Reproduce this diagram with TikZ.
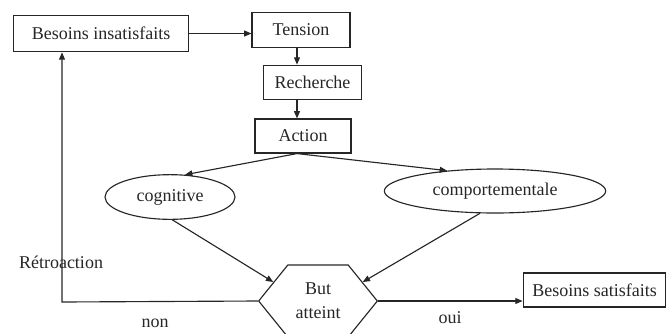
\documentclass[tikz,border=0pt]{standalone}
\usepackage{fontspec}
\setmainfont{Liberation Serif}
\usetikzlibrary{arrows.meta}
\usetikzlibrary{shapes.geometric}
\usetikzlibrary{shapes.symbols}
\tikzset{>={Triangle[length=5.5pt,width=4.5pt]}}
\tikzset{
  boite/.style={draw, rectangle, inner sep=0pt, line width=0.85pt},
  ovale/.style={draw, ellipse, inner sep=0pt, line width=0.85pt},
  hexa/.style={draw, signal, signal to=east and west, signal pointer angle=102,
    inner sep=0pt, line width=0.85pt, align=center},
  fleche/.style={->, line width=0.85pt},
}

\begin{document}
\begin{tikzpicture}[x=0.75pt, y=-0.75pt, font=\fontsize{13.5}{15}\selectfont, color=black!85]
  \useasboundingbox (0,0) rectangle (667,333);

  % 节点
  \node[boite, minimum width=131pt, minimum height=27.5pt] (bi) at (101,33.5) {Besoins insatisfaits};
  \node[boite, minimum width=73.5pt, minimum height=26pt] (tension) at (301,30) {Tension};
  \node[boite, minimum width=74pt, minimum height=26pt] (recherche) at (312.5,82.5) {Recherche};
  \node[boite, minimum width=72pt, minimum height=25.5pt] (action) at (303,136) {Action};
  \node[ovale, minimum width=97.5pt, minimum height=33.5pt] (cog) at (170,197) {cognitive};
  \node[ovale, minimum width=166pt, minimum height=33pt] (comp) at (495,191) {comportementale};
  \node[hexa, minimum width=89pt, minimum height=54pt,
    font=\fontsize{13.5}{18}\selectfont] (but) at (318,301) {But\\atteint};
  \node[boite, minimum width=107pt, minimum height=25.5pt] (bs) at (594.5,290) {Besoins satisfaits};
  \coordinate (coin) at (62,302);

  % 箭头
  \draw[fleche] (bi.east) -- (bi.east -| tension.west);
  \draw[fleche] (tension.south -| 297,0) -- (recherche.north -| 297,0);
  \draw[fleche] (recherche.south -| 297,0) -- (action.north -| 297,0);
  \draw[fleche] (action.south -| 297,0) -- (cog.56);
  \draw[fleche] (action.south -| 297,0) -- (comp.157);
  \draw[fleche] (cog.-84) -- (but.157);
  \draw[fleche] (comp.236) -- (but.23);
  \draw[fleche] (but.west) -- (coin) -- (coin |- bi.south);
  \draw[fleche] (but.east) -- (but.east -| bs.west);

  % 标签
  \node (retro) at (61,262) {Rétroaction};
  \node (non) at (155,323) {non};
  \node (oui) at (450,318) {oui};
\end{tikzpicture}
\end{document}
